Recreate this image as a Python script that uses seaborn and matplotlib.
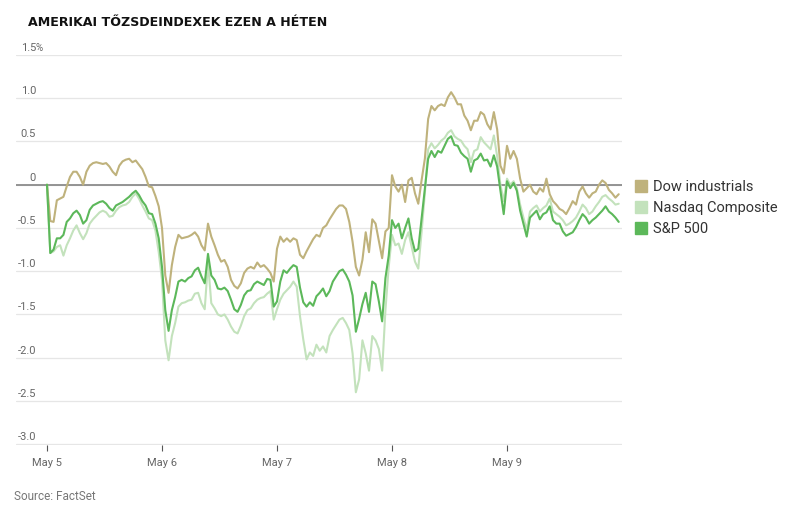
import numpy as np
import pandas as pd
import matplotlib
matplotlib.use("Agg")
import matplotlib.pyplot as plt
from matplotlib.lines import Line2D
import seaborn as sns

# intraday % change, 35 samples per trading day, May 5 - May 9
days = ["May 5", "May 6", "May 7", "May 8", "May 9"]
per_day = 35

dow = [
    # May 5
    0.0, -0.42, -0.43, -0.18, -0.16, -0.14, -0.02, 0.09, 0.15, 0.15,
    0.09, 0.0, 0.15, 0.22, 0.25, 0.26, 0.25, 0.24, 0.25, 0.21,
    0.15, 0.11, 0.22, 0.27, 0.29, 0.30, 0.26, 0.28, 0.23, 0.18,
    0.09, -0.02, -0.03, -0.13, -0.25,
    # May 6
    -0.5, -1.05, -1.25, -0.93, -0.72, -0.58, -0.62, -0.61, -0.6, -0.58,
    -0.55, -0.6, -0.7, -0.76, -0.45, -0.6, -0.7, -0.81, -0.89, -0.87,
    -0.95, -1.1, -1.17, -1.2, -1.14, -1.02, -0.97, -0.95, -0.97, -0.9,
    -0.95, -0.93, -0.97, -1.02, -1.12,
    # May 7
    -0.74, -0.6, -0.66, -0.62, -0.66, -0.62, -0.64, -0.81, -0.85, -0.77,
    -0.7, -0.63, -0.58, -0.6, -0.5, -0.47, -0.4, -0.34, -0.28, -0.24,
    -0.24, -0.28, -0.43, -0.66, -0.95, -1.05, -0.87, -0.55, -0.78, -0.4,
    -0.45, -0.65, -0.85, -0.54, -0.5,
    # May 8
    0.11, -0.02, -0.08, 0.0, -0.2, 0.05, 0.08, -0.1, -0.22, 0.05,
    0.3, 0.76, 0.91, 0.86, 0.91, 0.93, 0.91, 1.01, 1.07, 1.01,
    0.93, 0.93, 0.8, 0.74, 0.63, 0.74, 0.74, 0.84, 0.81, 0.7,
    0.64, 0.84, 0.64, 0.22, 0.13,
    # May 9
    0.45, 0.3, 0.39, 0.3, 0.07, -0.08, -0.04, 0.0, -0.08, -0.11,
    -0.04, -0.08, 0.07, -0.11, -0.19, -0.23, -0.28, -0.3, -0.34, -0.27,
    -0.19, -0.23, -0.08, -0.02, -0.1, -0.15, -0.1, -0.08, 0.0, 0.05,
    0.02, -0.06, -0.1, -0.15, -0.11,
]

nasdaq = [
    0.0, -0.79, -0.77, -0.72, -0.7, -0.82, -0.7, -0.62, -0.53, -0.47,
    -0.56, -0.63, -0.56, -0.45, -0.4, -0.36, -0.32, -0.3, -0.32, -0.37,
    -0.36, -0.3, -0.26, -0.24, -0.23, -0.2, -0.14, -0.1, -0.16, -0.24,
    -0.31, -0.39, -0.41, -0.53, -0.78,
    -1.1, -1.8, -2.03, -1.75, -1.6, -1.41, -1.37, -1.36, -1.34, -1.33,
    -1.26, -1.25, -1.37, -1.44, -0.9, -1.37, -1.43, -1.5, -1.52, -1.5,
    -1.56, -1.64, -1.7, -1.72, -1.63, -1.52, -1.45, -1.43, -1.37, -1.33,
    -1.31, -1.3, -1.26, -1.23, -1.56,
    -1.44, -1.33, -1.26, -1.22, -1.18, -1.12, -1.18, -1.52, -1.79, -2.02,
    -1.94, -1.98, -1.85, -1.92, -1.87, -1.94, -1.75, -1.68, -1.62, -1.56,
    -1.54, -1.6, -1.68, -1.95, -2.4, -2.25, -1.8, -1.95, -2.15, -1.75,
    -1.8, -1.9, -2.15, -1.45, -0.95,
    -0.58, -0.7, -0.68, -0.8, -0.64, -0.55, -0.72, -0.89, -0.97, -0.55,
    -0.1, 0.41, 0.48, 0.42, 0.46, 0.51, 0.54, 0.6, 0.63, 0.56,
    0.53, 0.51, 0.45, 0.41, 0.26, 0.39, 0.41, 0.55, 0.49, 0.45,
    0.41, 0.57, 0.33, 0.0, -0.19,
    0.07, 0.0, 0.04, -0.04, -0.23, -0.38, -0.52, -0.31, -0.27, -0.24,
    -0.31, -0.27, -0.24, -0.16, -0.31, -0.34, -0.37, -0.41, -0.47, -0.45,
    -0.42, -0.38, -0.31, -0.23, -0.27, -0.34, -0.31, -0.25, -0.2, -0.14,
    -0.12, -0.16, -0.19, -0.23, -0.22,
]

sp500 = [
    0.0, -0.79, -0.75, -0.62, -0.62, -0.58, -0.43, -0.39, -0.33, -0.3,
    -0.35, -0.45, -0.41, -0.29, -0.24, -0.22, -0.2, -0.19, -0.22, -0.27,
    -0.3, -0.24, -0.22, -0.2, -0.17, -0.14, -0.1, -0.07, -0.12, -0.19,
    -0.24, -0.33, -0.34, -0.45, -0.62,
    -0.95, -1.45, -1.69, -1.45, -1.3, -1.12, -1.1, -1.12, -1.08, -1.06,
    -0.99, -0.96, -1.06, -1.14, -0.8, -1.05, -1.1, -1.2, -1.21, -1.19,
    -1.23, -1.33, -1.44, -1.47, -1.39, -1.28, -1.23, -1.22, -1.15, -1.12,
    -1.14, -1.16, -1.09, -1.1, -1.41,
    -1.35, -1.12, -0.99, -1.02, -0.97, -0.93, -0.95, -1.19, -1.36, -1.41,
    -1.36, -1.4, -1.29, -1.25, -1.2, -1.29, -1.23, -1.12, -1.06, -1.0,
    -0.98, -1.04, -1.12, -1.28, -1.7, -1.55, -1.38, -1.25, -1.47, -1.12,
    -1.15, -1.35, -1.58, -1.08, -0.82,
    -0.41, -0.5, -0.45, -0.62, -0.5, -0.39, -0.62, -0.77, -0.74, -0.39,
    -0.05, 0.3, 0.39, 0.32, 0.39, 0.37, 0.45, 0.53, 0.56, 0.46,
    0.45, 0.37, 0.33, 0.3, 0.15, 0.28, 0.3, 0.36, 0.28, 0.29,
    0.21, 0.34, 0.21, -0.07, -0.34,
    0.04, -0.04, 0.02, -0.07, -0.3, -0.45, -0.6, -0.38, -0.34, -0.3,
    -0.4, -0.34, -0.32, -0.25, -0.41, -0.45, -0.45, -0.54, -0.59, -0.57,
    -0.55, -0.49, -0.41, -0.34, -0.38, -0.45, -0.41, -0.38, -0.34, -0.3,
    -0.25, -0.31, -0.34, -0.38, -0.43,
]

series = ["Dow industrials", "Nasdaq Composite", "S&P 500"]
colors = {"Dow industrials": "#bfb27c", "Nasdaq Composite": "#c3e2bc", "S&P 500": "#5cb85a"}
ytick_vals = [1.5, 1.0, 0.5, 0, -0.5, -1.0, -1.5, -2.0, -2.5, -3.0]

t = np.arange(len(dow)) / per_day
df = pd.concat([
    pd.DataFrame({"t": t, "value": dow, "index": "Dow industrials"}),
    pd.DataFrame({"t": t, "value": nasdaq, "index": "Nasdaq Composite"}),
    pd.DataFrame({"t": t, "value": sp500, "index": "S&P 500"}),
])

sns.set_style("white")
plt.rcParams["font.family"] = ["Roboto", "DejaVu Sans"]

fig = plt.figure(figsize=(8.06, 5.12), dpi=100)
ax = fig.add_axes([16 / 806, 67 / 512, 606 / 806, 390 / 512])

ax.axhline(0, color="#8c8c8c", lw=1.3, zorder=1.5)
sns.lineplot(data=df, x="t", y="value", hue="index",
             hue_order=["Nasdaq Composite", "Dow industrials", "S&P 500"],
             palette=colors, lw=1.5, legend=False, ax=ax, zorder=3)

ax.set_xlim(-31 / 115, 5.0)
ax.set_ylim(-3.01, 1.5)
ax.set_yticks(ytick_vals)
ax.yaxis.grid(True, color="#e6e6e6", lw=0.9)
ax.xaxis.grid(False)
ax.tick_params(axis="y", length=0, left=False, labelleft=False)
ax.set_xticks(range(len(days)))
ax.set_xticklabels(days)
ax.tick_params(axis="x", bottom=True, length=4, width=0.8, color="#555555", pad=5,
               labelsize=8, labelcolor="#666666")
ax.set_xlabel("")
ax.set_ylabel("")
for s in ax.spines.values():
    s.set_visible(False)

# y labels sit above their gridlines, right-aligned
lab_x = -11 / 115
for v in ytick_vals:
    lab = "0" if v == 0 else f"{v:.1f}"
    ax.annotate(lab, xy=(lab_x, v), xytext=(0, 1.5), textcoords="offset points",
                ha="right", va="bottom", fontsize=8, color="#666666")
ax.annotate("%", xy=(lab_x, 1.5), xytext=(0, 1.5), textcoords="offset points",
            ha="left", va="bottom", fontsize=7, color="#666666")

handles = [Line2D([], [], marker="s", ls="none", markersize=8, color=colors[s]) for s in series]
fig.legend(handles, series, loc="center left", bbox_to_anchor=(622 / 806, 1 - 208 / 512),
           frameon=False, handlelength=0.8, handletextpad=0.4, labelspacing=0.5,
           fontsize=10.5, labelcolor="#333333")

fig.text(28 / 806, 1 - 22 / 512, "AMERIKAI TŐZSDEINDEXEK EZEN A HÉTEN",
         fontsize=9.1, fontweight="bold", family="DejaVu Sans", va="center", color="#111111")
fig.text(14 / 806, 1 - 497 / 512, "Source: FactSet", fontsize=8.5, color="#777777", va="center")

fig.savefig("out.png", dpi=100)
